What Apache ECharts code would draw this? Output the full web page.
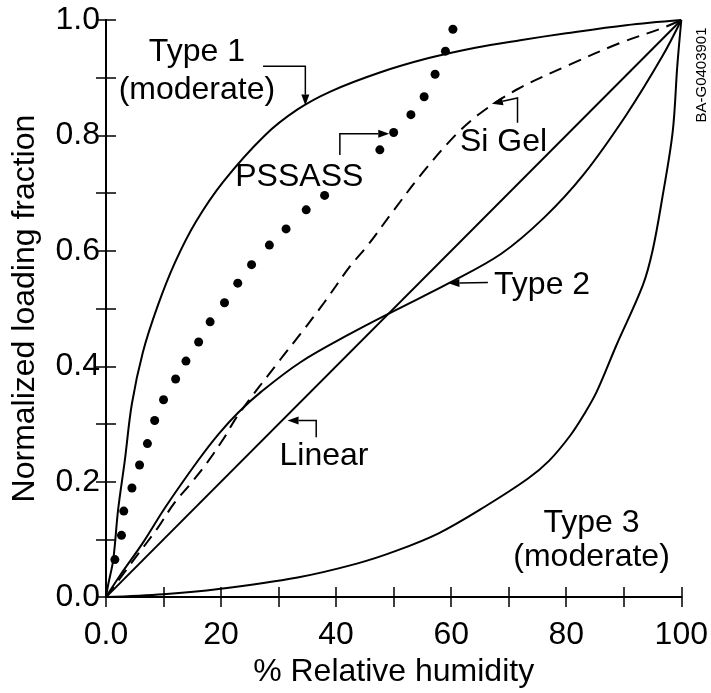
<!DOCTYPE html>
<html>
<head>
<meta charset="utf-8">
<script src="https://cdn.jsdelivr.net/npm/echarts@6/dist/echarts.min.js"></script>
<style>
  html, body { margin: 0; padding: 0; background: #fff; }
  #main { width: 711px; height: 693px; }
</style>
</head>
<body>
<div id="main"></div>
<script>
// tick labels
var xTickLabels = ['0.0', '20', '40', '60', '80', '100'];
var yTickLabels = ['0.0', '0.2', '0.4', '0.6', '0.8', '1.0'];

// curves, [RH %, loading fraction]
var typeOne = [[0, 0], [0.35, 0.02], [1.26, 0.065], [2.1, 0.151], [3.26, 0.236], [4.5, 0.335], [6.4, 0.424],
  [9.0, 0.505], [12, 0.58], [15.6, 0.65], [20.4, 0.72], [27.6, 0.8], [33.3, 0.845], [39, 0.876],
  [47.6, 0.909], [56.1, 0.934], [64.2, 0.952], [72, 0.965], [80, 0.977], [90.4, 0.991], [100, 1]];
var typeTwo = [[0, 0], [2.4, 0.037], [6.4, 0.094], [10.4, 0.157], [16.1, 0.238], [19.6, 0.283], [23, 0.32],
  [27, 0.356], [33.8, 0.407], [42.4, 0.456], [50.1, 0.496], [59.6, 0.544], [68.7, 0.595], [76.2, 0.658],
  [83, 0.732], [90.4, 0.835], [96.7, 0.937], [100, 1]];
var typeThree = [[0, 0], [10, 0.005], [19.6, 0.014], [33.3, 0.034], [43.6, 0.058], [50.4, 0.08], [57.9, 0.111],
  [65.9, 0.157], [73.3, 0.205], [77, 0.236], [80.7, 0.28], [83, 0.315], [85.3, 0.356], [88.7, 0.436],
  [93.3, 0.54], [95, 0.6], [96.7, 0.692], [98.5, 0.806], [99.3, 0.92], [100, 1]];
var siGel = [[0, 0], [5.3, 0.071], [9, 0.12], [11.8, 0.162], [15, 0.2], [17.8, 0.236], [20.4, 0.274],
  [23, 0.316], [30.4, 0.413], [33.8, 0.456], [37.9, 0.51], [42.4, 0.573], [45.3, 0.607], [50, 0.67],
  [55, 0.735], [60.7, 0.8], [65, 0.838], [71.5, 0.88], [80.7, 0.923], [89.3, 0.96], [96.7, 0.986], [100, 1]];
var linear = [[0, 0], [100, 1]];
var pssass = [[1.54, 0.065], [2.69, 0.107], [3.09, 0.149], [4.51, 0.189], [5.83, 0.229], [7.2, 0.266],
  [8.46, 0.306], [10.0, 0.342], [12.1, 0.378], [13.9, 0.409], [16.1, 0.442], [18.1, 0.477], [20.6, 0.51],
  [22.9, 0.544], [25.3, 0.576], [28.4, 0.61], [31.3, 0.638], [34.8, 0.671], [38.0, 0.696], [47.6, 0.775],
  [50.0, 0.805], [53.0, 0.836], [55.3, 0.867], [57.2, 0.906], [59.0, 0.946], [60.3, 0.984]];

// annotation texts and their arrows, in data units
var labelTexts = ['Type 1', '(moderate)', 'PSSASS', 'Si Gel', 'Type 2', 'Linear', 'Type 3', '(moderate)'];
var labelPos = [[15.8, 0.945], [15.8, 0.879], [33.6, 0.728], [69.1, 0.788], [75.8, 0.540], [37.9, 0.244],
  [84.4, 0.128], [84.4, 0.070]];
var arrows = [
  [[27.3, 0.920], [34.65, 0.920], [34.65, 0.852]],
  [[40.65, 0.766], [40.65, 0.803], [49.23, 0.803]],
  [[71.53, 0.822], [71.53, 0.865], [67.07, 0.855]],
  [[66.38, 0.545], [59.52, 0.544]],
  [[36.54, 0.277], [36.54, 0.306], [31.56, 0.306]]
];

var font = '"Liberation Sans", Arial, Helvetica, sans-serif';
var chart = echarts.init(document.getElementById('main'));

function frameAxis(pos) {
  return {
    type: 'value', position: pos, min: 0,
    axisLine: { show: true, lineStyle: { color: '#000', width: 2 } },
    axisTick: { show: true, inside: true, length: 10, lineStyle: { color: '#000', width: 1.5 } },
    axisLabel: { show: false },
    splitLine: { show: false }
  };
}

var xTop = frameAxis('top'); xTop.max = 100; xTop.interval = 10;
var yRight = frameAxis('right'); yRight.max = 1; yRight.interval = 0.1;

function line(name, data, dashed) {
  return {
    name: name, type: 'line', data: data, xAxisIndex: 0, yAxisIndex: 0,
    showSymbol: false, smooth: 0.35, silent: true,
    lineStyle: { color: '#000', width: 2, type: dashed ? [13, 8] : 'solid' }
  };
}

chart.setOption({
  animation: false,
  backgroundColor: '#fff',
  grid: { left: 106, right: 22, top: 20, bottom: 88 },
  xAxis: [{
    type: 'value', position: 'bottom', min: 0, max: 100, interval: 10,
    name: '% Relative humidity', nameLocation: 'middle', nameGap: 56,
    nameTextStyle: { fontFamily: font, fontSize: 32, color: '#000' },
    axisLine: { lineStyle: { color: '#000', width: 2 } },
    axisTick: { inside: true, length: 10, lineStyle: { color: '#000', width: 1.5 } },
    axisLabel: {
      margin: 22, fontFamily: font, fontSize: 32, color: '#000',
      formatter: function (v) { return v % 20 === 0 ? xTickLabels[v / 20] : ''; }
    },
    splitLine: { show: false }
  }, xTop],
  yAxis: [{
    type: 'value', position: 'left', min: 0, max: 1, interval: 0.1,
    name: 'Normalized loading fraction', nameLocation: 'middle', nameGap: 65,
    nameTextStyle: { fontFamily: font, fontSize: 32, color: '#000' },
    axisLine: { lineStyle: { color: '#000', width: 2 } },
    axisTick: { inside: true, length: 10, lineStyle: { color: '#000', width: 1.5 } },
    axisLabel: {
      margin: 6, fontFamily: font, fontSize: 32, color: '#000',
      formatter: function (v) {
        var k = Math.round(v * 10);
        return k % 2 === 0 ? yTickLabels[k / 2] : '';
      }
    },
    splitLine: { show: false }
  }, yRight],
  series: [
    line('Type 1', typeOne),
    line('Type 2', typeTwo),
    line('Type 3', typeThree),
    line('Si Gel', siGel, true),
    line('Linear', linear),
    {
      name: 'PSSASS', type: 'scatter', data: pssass, symbol: 'circle', symbolSize: 9,
      itemStyle: { color: '#000', opacity: 1 }, silent: true
    }
  ]
});

// annotations
var toPx = function (p) { return chart.convertToPixel({ gridIndex: 0 }, p); };
var graphics = [];
labelTexts.forEach(function (t, i) {
  var p = toPx(labelPos[i]);
  graphics.push({
    type: 'text', x: p[0], y: p[1], silent: true,
    style: { text: t, fontFamily: font, fontSize: 32, fill: '#000', align: 'center', verticalAlign: 'middle' }
  });
});
arrows.forEach(function (a) {
  var pts = a.map(toPx);
  var tip = pts[pts.length - 1], prev = pts[pts.length - 2];
  var dx = tip[0] - prev[0], dy = tip[1] - prev[1];
  var len = Math.sqrt(dx * dx + dy * dy);
  dx /= len; dy /= len;
  var back = [tip[0] - dx * 11, tip[1] - dy * 11];
  var linePts = pts.slice(0, -1).concat([back]);
  graphics.push({ type: 'polyline', silent: true, shape: { points: linePts }, style: { stroke: '#000', lineWidth: 1.5, fill: null } });
  graphics.push({
    type: 'polygon', silent: true,
    shape: { points: [tip, [back[0] - dy * 4, back[1] + dx * 4], [back[0] + dy * 4, back[1] - dx * 4]] },
    style: { fill: '#000' }
  });
});
graphics.push({
  type: 'text', x: 702, y: 75, rotation: Math.PI / 2, silent: true,
  style: { text: 'BA-G0403901', fontFamily: font, fontSize: 15, fill: '#000', align: 'center', verticalAlign: 'middle' }
});
chart.setOption({ graphic: graphics });
</script>
</body>
</html>
